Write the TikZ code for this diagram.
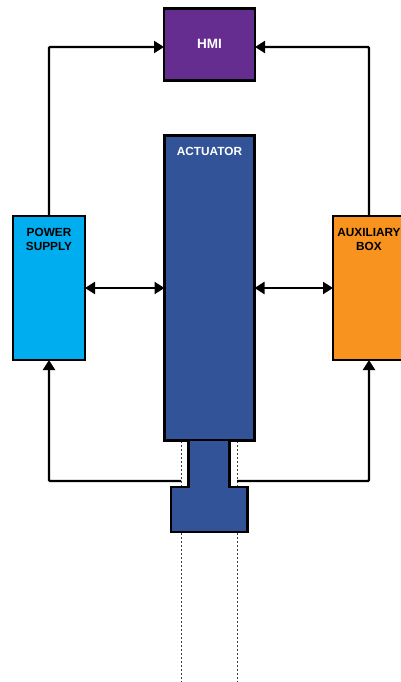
\documentclass[tikz,border=0pt]{standalone}
\usepackage{fontspec}
\setmainfont{Liberation Sans}
\usetikzlibrary{arrows.meta,positioning}
\definecolor{hmicol}{HTML}{662D91}
\definecolor{actcol}{HTML}{325397}
\definecolor{powcol}{HTML}{00AEEF}
\definecolor{auxcol}{HTML}{F7931E}
\tikzset{
  blockbox/.style={draw=black,line width=2.2pt,inner sep=0pt,outer sep=0pt,anchor=north west},
  lab/.style={font=\fontsize{11.8}{14}\selectfont\bfseries,align=center,inner sep=0pt,anchor=center},
  conn/.style={line width=2.2pt,draw=black,-{Triangle[length=10pt,width=12pt]}},
  biconn/.style={line width=2.2pt,draw=black,{Triangle[length=10pt,width=12pt]}-{Triangle[length=10pt,width=12pt]}},
  guide/.style={draw=black!75,line width=1pt,dash pattern=on 2pt off 2pt},
}
\begin{document}
\begin{tikzpicture}[x=1pt,y=-1pt]
\useasboundingbox (0,0) rectangle (401,682);
\clip (0,0) rectangle (401,682);
\fill[white] (0,0) rectangle (401,682);
% coordinates for free guide ends and routes
\coordinate (gl0) at (181,441);
\coordinate (gl1) at (181,682);
\coordinate (gr0) at (237,441);
\coordinate (gr1) at (237,682);
\draw[guide] (gl0) -- (gl1);
\draw[guide] (gr0) -- (gr1);
% blocks
\node[blockbox,fill=hmicol,minimum width=91pt,minimum height=72pt] (hmi) at (164,8.5) {};
\node[blockbox,fill=actcol,minimum width=90pt,minimum height=305pt] (act) at (164.5,135.5) {};
\node[blockbox,fill=powcol,minimum width=72pt,minimum height=144pt] (pow) at (13,216) {};
\node[blockbox,fill=auxcol,minimum width=72pt,minimum height=144pt] (aux) at (333,216) {};
\coordinate (hl) at (49,47);
\coordinate (hr) at (369,47);
\coordinate (bl) at (49,481);
\coordinate (br) at (369,481);
\coordinate (sl) at (181,481);
\coordinate (sr) at (237,481);
\coordinate (hmiL) at (hmi.west |- hl);
\coordinate (hmiR) at (hmi.east |- hr);
\coordinate (powE) at (85,288);
\coordinate (actW) at (act.west |- powE);
\coordinate (actE) at (act.east |- powE);
\coordinate (auxW) at (aux.west |- powE);
% connectors
\draw[conn,rounded corners=1pt] (pow.north) -- (hl) -- (hmiL);
\draw[conn,rounded corners=1pt] (aux.north) -- (hr) -- (hmiR);
\draw[biconn] (powE) -- (actW);
\draw[biconn] (actE) -- (auxW);
\draw[conn,rounded corners=1pt] (sl) -- (bl) -- (pow.south);
\draw[conn,rounded corners=1pt] (sr) -- (br) -- (aux.south);
% shaft and head
\draw[black,line width=2.2pt,fill=actcol,line join=miter]
  (188.5,440) -- (188.5,487) -- (171,487) -- (171,532) -- (247.5,532) -- (247.5,487) -- (229.5,487) -- (229.5,440) -- cycle;
% labels
\node[lab,text=white,font=\fontsize{13.5}{16}\selectfont\bfseries] (hmit) at (209.5,43.5) {HMI};
\node[lab,text=white] (actt) at (209.5,151) {ACTUATOR};
\node[lab] (powt) at (49,239) {POWER\\SUPPLY};
\node[lab] (auxt) at (369,239) {AUXILIARY\\BOX};
\end{tikzpicture}
\end{document}
